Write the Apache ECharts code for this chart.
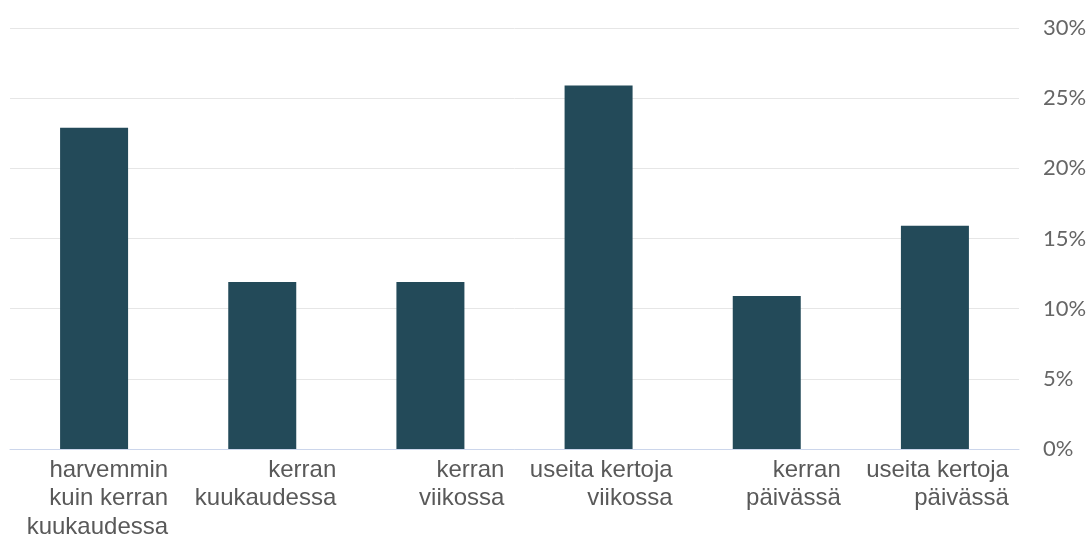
<!DOCTYPE html>
<html><head><meta charset="utf-8">
<script src="https://cdn.jsdelivr.net/npm/echarts@6/dist/echarts.min.js"></script>
<style>html,body{margin:0;padding:0;background:#fff}#c{width:1091px;height:543px}</style>
</head><body><div id="c"></div>
<script>
const categories = ["harvemmin\nkuin kerran\nkuukaudessa", "kerran\nkuukaudessa", "kerran\nviikossa", "useita kertoja\nviikossa", "kerran\npäivässä", "useita kertoja\npäivässä"];
const values = [22.9, 11.9, 11.9, 25.9, 10.9, 15.9];
const yTicks = [0, 5, 10, 15, 20, 25, 30];

const chart = echarts.init(document.getElementById('c'), null, {renderer: 'canvas'});
chart.setOption({
  animation: false,
  grid: {left: 10, right: 72, top: 28, bottom: 94, containLabel: false},
  xAxis: {
    type: 'category', data: categories, boundaryGap: true,
    axisLine: {show: true, lineStyle: {color: '#ccd6eb', width: 1}},
    axisTick: {show: false},
    axisLabel: {
      interval: 0, align: 'right', margin: 7,
      padding: [0, -74, 0, 0],
      fontFamily: 'Liberation Sans, Arial, sans-serif', fontSize: 24, lineHeight: 28.5,
      color: '#595959'
    }
  },
  yAxis: {
    type: 'value', position: 'right', min: yTicks[0], max: yTicks[yTicks.length - 1], interval: 5,
    axisLine: {show: false}, axisTick: {show: false},
    splitLine: {lineStyle: {color: '#e6e6e6', width: 1}},
    axisLabel: {formatter: '{value}%', margin: 24, fontFamily: 'Lato, sans-serif', fontSize: 22, color: '#666666'}
  },
  series: [{
    type: 'bar', data: values, barWidth: 68,
    itemStyle: {color: '#234a59'}
  }]
});
</script></body></html>
